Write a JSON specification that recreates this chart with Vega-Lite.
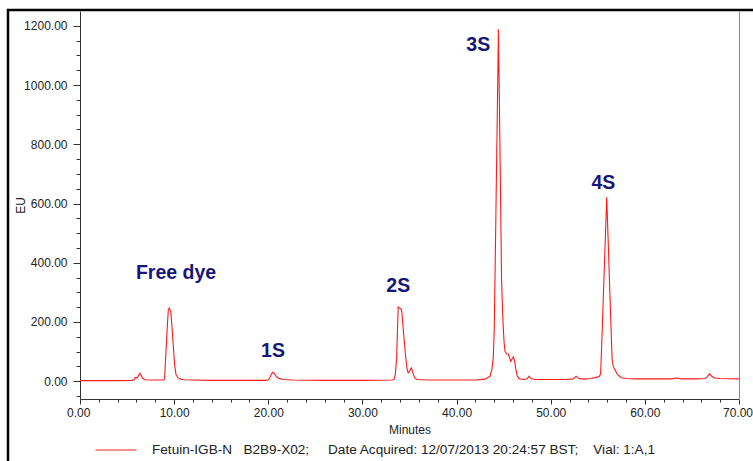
{
  "$schema": "https://vega.github.io/schema/vega-lite/v6.json",
  "width": 745,
  "height": 451,
  "autosize": {"type": "none"},
  "padding": {"left": 8, "top": 10, "right": 0, "bottom": 0},
  "background": "white",
  "config": {
    "view": {"stroke": "black", "strokeWidth": 2.5, "strokeDash": [745, 1196, 451, 1]},
    "font": "Liberation Sans",
    "axis": {
      "grid": false,
      "domainColor": "#333333",
      "tickColor": "#333333",
      "labelColor": "#222222",
      "labelFontSize": 12,
      "labelFont": "Liberation Sans",
      "titleFont": "Liberation Sans",
      "titleFontSize": 12,
      "titleFontWeight": "normal",
      "titleColor": "#222222",
      "labelOverlap": false,
      "labelFlush": false,
      "labelBound": false
    }
  },
  "layer": [
    {
      "data": {
        "values": [
          {"t": 0, "eu": 2}, {"t": 2, "eu": 2}, {"t": 4, "eu": 2}, {"t": 5.5, "eu": 3}, {"t": 5.75, "eu": 5},
          {"t": 5.84, "eu": 12}, {"t": 5.95, "eu": 13}, {"t": 6.05, "eu": 11}, {"t": 6.2, "eu": 18}, {"t": 6.37, "eu": 27},
          {"t": 6.5, "eu": 20}, {"t": 6.65, "eu": 10}, {"t": 6.9, "eu": 5}, {"t": 7.5, "eu": 4}, {"t": 8.5, "eu": 4},
          {"t": 8.9, "eu": 4}, {"t": 8.98, "eu": 8}, {"t": 9.05, "eu": 50}, {"t": 9.15, "eu": 110}, {"t": 9.25, "eu": 170},
          {"t": 9.38, "eu": 242}, {"t": 9.49, "eu": 247}, {"t": 9.58, "eu": 240}, {"t": 9.67, "eu": 228}, {"t": 9.8, "eu": 170},
          {"t": 9.91, "eu": 118}, {"t": 10.05, "eu": 55}, {"t": 10.2, "eu": 22}, {"t": 10.4, "eu": 12}, {"t": 10.62, "eu": 8},
          {"t": 11, "eu": 5}, {"t": 12, "eu": 4}, {"t": 14, "eu": 3}, {"t": 17, "eu": 3}, {"t": 19.8, "eu": 3},
          {"t": 20.0, "eu": 5}, {"t": 20.2, "eu": 14}, {"t": 20.35, "eu": 25}, {"t": 20.47, "eu": 30}, {"t": 20.6, "eu": 27},
          {"t": 20.8, "eu": 18}, {"t": 21.0, "eu": 12}, {"t": 21.3, "eu": 8}, {"t": 21.6, "eu": 6}, {"t": 22.5, "eu": 4},
          {"t": 26, "eu": 3}, {"t": 30, "eu": 3}, {"t": 33.2, "eu": 4}, {"t": 33.4, "eu": 8}, {"t": 33.5, "eu": 25},
          {"t": 33.64, "eu": 84}, {"t": 33.72, "eu": 170}, {"t": 33.8, "eu": 251}, {"t": 33.9, "eu": 248}, {"t": 34.0, "eu": 246},
          {"t": 34.1, "eu": 244}, {"t": 34.17, "eu": 238}, {"t": 34.3, "eu": 190}, {"t": 34.4, "eu": 150}, {"t": 34.5, "eu": 118},
          {"t": 34.6, "eu": 80}, {"t": 34.72, "eu": 45}, {"t": 34.86, "eu": 28}, {"t": 35.0, "eu": 32}, {"t": 35.12, "eu": 42},
          {"t": 35.21, "eu": 45}, {"t": 35.35, "eu": 28}, {"t": 35.56, "eu": 11}, {"t": 35.8, "eu": 6}, {"t": 37, "eu": 4},
          {"t": 40, "eu": 4}, {"t": 42, "eu": 4}, {"t": 43.0, "eu": 7}, {"t": 43.3, "eu": 12}, {"t": 43.55, "eu": 17},
          {"t": 43.75, "eu": 40}, {"t": 43.9, "eu": 80}, {"t": 44.0, "eu": 175}, {"t": 44.08, "eu": 343}, {"t": 44.2, "eu": 617},
          {"t": 44.3, "eu": 845}, {"t": 44.4, "eu": 1074}, {"t": 44.45, "eu": 1188}, {"t": 44.55, "eu": 935}, {"t": 44.65, "eu": 680},
          {"t": 44.78, "eu": 343}, {"t": 44.88, "eu": 240}, {"t": 44.97, "eu": 175}, {"t": 45.05, "eu": 130}, {"t": 45.15, "eu": 100},
          {"t": 45.3, "eu": 93}, {"t": 45.5, "eu": 92}, {"t": 45.75, "eu": 67}, {"t": 45.9, "eu": 76}, {"t": 46.03, "eu": 82},
          {"t": 46.15, "eu": 70}, {"t": 46.3, "eu": 40}, {"t": 46.45, "eu": 17}, {"t": 46.7, "eu": 8}, {"t": 47.2, "eu": 6},
          {"t": 47.5, "eu": 8}, {"t": 47.7, "eu": 17}, {"t": 47.9, "eu": 9}, {"t": 48.3, "eu": 6}, {"t": 50, "eu": 6},
          {"t": 51.5, "eu": 6}, {"t": 52.4, "eu": 8}, {"t": 52.7, "eu": 17}, {"t": 53.0, "eu": 9}, {"t": 53.5, "eu": 7},
          {"t": 54.3, "eu": 9}, {"t": 54.8, "eu": 13}, {"t": 55.15, "eu": 16}, {"t": 55.3, "eu": 25}, {"t": 55.4, "eu": 110},
          {"t": 55.5, "eu": 200}, {"t": 55.6, "eu": 295}, {"t": 55.7, "eu": 390}, {"t": 55.8, "eu": 480}, {"t": 55.9, "eu": 575},
          {"t": 55.95, "eu": 621}, {"t": 56.05, "eu": 525}, {"t": 56.15, "eu": 430}, {"t": 56.25, "eu": 330}, {"t": 56.35, "eu": 235},
          {"t": 56.45, "eu": 140}, {"t": 56.52, "eu": 73}, {"t": 56.65, "eu": 50}, {"t": 56.8, "eu": 40}, {"t": 57.1, "eu": 22},
          {"t": 57.5, "eu": 12}, {"t": 58, "eu": 9}, {"t": 59, "eu": 8}, {"t": 61, "eu": 8}, {"t": 62.8, "eu": 8},
          {"t": 63.4, "eu": 11}, {"t": 63.9, "eu": 8}, {"t": 65.5, "eu": 8}, {"t": 66.4, "eu": 9}, {"t": 66.6, "eu": 15},
          {"t": 66.85, "eu": 25}, {"t": 67.1, "eu": 17}, {"t": 67.4, "eu": 11}, {"t": 68, "eu": 9}, {"t": 70, "eu": 8}
        ]
      },
      "mark": {"type": "line", "strokeWidth": 1.1, "interpolate": "linear"},
      "encoding": {
        "x": {
          "field": "t",
          "type": "quantitative",
          "scale": {"domain": [0, 70], "range": [72, 731], "nice": false, "zero": false},
          "axis": {
            "title": "Minutes",
            "offset": -62,
            "tickCount": 200,
            "values": [0, 2, 4, 6, 8, 10, 12, 14, 16, 18, 20, 22, 24, 26, 28, 30, 32, 34, 36, 38, 40, 42, 44, 46, 48, 50, 52, 54, 56, 58, 60, 62, 64, 66, 68, 70],
            "labelExpr": "datum.value % 10 === 0 ? format(datum.value, '.2f') : ''",
            "tickSize": {"condition": {"test": "datum.value % 10 === 0", "value": 5}, "value": 3},
            "labelOverlap": false,
            "labelFlush": true,
            "labelFlushOffset": 13.5,
            "labelBound": false,
            "labelPadding": 3,
            "titlePadding": 6
          }
        },
        "y": {
          "field": "eu",
          "type": "quantitative",
          "scale": {"domain": [-60, 1250], "range": [389, 1], "nice": false, "zero": false},
          "axis": {
            "title": "EU",
            "offset": -72,
            "tickCount": 200,
            "values": [-50, 0, 50, 100, 150, 200, 250, 300, 350, 400, 450, 500, 550, 600, 650, 700, 750, 800, 850, 900, 950, 1000, 1050, 1100, 1150, 1200],
            "labelExpr": "datum.value >= 0 && datum.value % 200 === 0 ? format(datum.value, '.2f') : ''",
            "tickSize": {"condition": {"test": "datum.value % 200 === 0", "value": 7}, "value": 4},
            "labelOverlap": false,
            "labelPadding": 6,
            "titlePadding": -4
          }
        },
        "color": {
          "datum": "Fetuin-IGB-N\u00a0\u00a0 B2B9-X02;\u00a0\u00a0\u00a0\u00a0 Date Acquired: 12/07/2013 20:24:57 BST;\u00a0\u00a0\u00a0 Vial: 1:A,1",
          "type": "nominal",
          "scale": {"range": ["#ff1a1a"]},
          "legend": {
            "orient": "none",
            "legendX": 87,
            "legendY": 419,
            "title": null,
            "symbolType": "stroke",
            "symbolSize": 1681,
            "symbolStrokeWidth": 1,
            "labelFontSize": 13.6,
            "labelFont": "Liberation Sans",
            "labelColor": "#222222",
            "labelLimit": 0,
            "labelOffset": 15,
            "padding": 0
          }
        }
      }
    },
    {
      "data": {
        "values": [
          {"label": "Free dye", "t": 10.2, "eu": 366},
          {"label": "1S", "t": 20.5, "eu": 103},
          {"label": "2S", "t": 33.8, "eu": 323},
          {"label": "3S", "t": 42.3, "eu": 1135},
          {"label": "4S", "t": 55.6, "eu": 670}
        ]
      },
      "mark": {"type": "text", "font": "Liberation Sans", "fontWeight": "bold", "fontSize": 19.5, "color": "#16167a", "align": "center", "baseline": "middle"},
      "encoding": {
        "x": {"field": "t", "type": "quantitative"},
        "y": {
          "field": "eu",
          "type": "quantitative",
          "axis": {"orient": "right", "offset": -14, "domainColor": "#888888", "ticks": false, "labels": false, "title": null}
        },
        "text": {"field": "label"}
      }
    }
  ],
  "resolve": {"axis": {"y": "independent"}}
}
